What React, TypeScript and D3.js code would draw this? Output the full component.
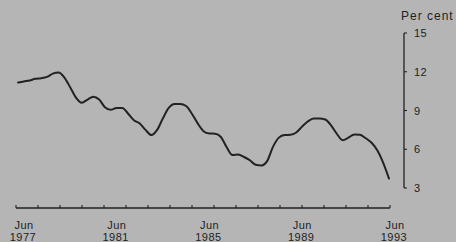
import React from "react";
import * as d3 from "d3";

// Quarterly observations, Jun 1977 .. Jun 1993 (decimal year, per cent)
const years: number[] = [
  1977.5, 1977.75, 1978.0, 1978.25, 1978.5, 1978.75, 1979.0, 1979.25, 1979.5, 1979.75,
  1980.0, 1980.25, 1980.5, 1980.75, 1981.0, 1981.25, 1981.5, 1981.75, 1982.0, 1982.25,
  1982.5, 1982.75, 1983.0, 1983.25, 1983.5, 1983.75, 1984.0, 1984.25, 1984.5, 1984.75,
  1985.0, 1985.25, 1985.5, 1985.75, 1986.0, 1986.25, 1986.5, 1986.75, 1987.0, 1987.25,
  1987.5, 1987.75, 1988.0, 1988.25, 1988.5, 1988.75, 1989.0, 1989.25, 1989.5, 1989.75,
  1990.0, 1990.25, 1990.5, 1990.75, 1991.0, 1991.25, 1991.5, 1991.75, 1992.0, 1992.25,
  1992.5, 1992.75, 1993.0, 1993.25, 1993.5,
];
const values: number[] = [
  11.16, 11.25, 11.33, 11.45, 11.5, 11.6, 11.85, 11.94, 11.55, 10.8,
  10.0, 9.6, 9.85, 10.07, 9.85, 9.25, 9.05, 9.2, 9.2, 8.75,
  8.25, 8.0, 7.5, 7.1, 7.5, 8.4, 9.2, 9.5, 9.5, 9.35,
  8.75, 8.0, 7.4, 7.22, 7.2, 6.95, 6.15, 5.55, 5.6, 5.4,
  5.15, 4.8, 4.75, 5.1, 6.2, 6.9, 7.1, 7.12, 7.3, 7.75,
  8.15, 8.38, 8.38, 8.3, 7.85, 7.2, 6.7, 6.9, 7.15, 7.12,
  6.85, 6.5, 5.9, 4.95, 3.73,
];

const xLabelYears: number[] = [1977.5, 1981.5, 1985.5, 1989.5, 1993.5];
const xLabelTop: string[] = ["Jun", "Jun", "Jun", "Jun", "Jun"];
const xLabelBottom: string[] = ["1977", "1981", "1985", "1989", "1993"];
const xMinorTickCount = 18;
const yTicks: number[] = [3, 6, 9, 12, 15];
const unitLabel = "Per cent";

const W = 456;
const H = 242;
const BG = "#b5b5b5";
const INK = "#222222";
const FONT = "'Liberation Sans', Arial, Helvetica, sans-serif";

export default function App() {
  const x = d3.scaleLinear().domain([1977.5, 1993.5]).range([18, 389]);
  const y = d3.scaleLinear().domain([3, 15]).range([188, 33]);
  const tickPos = d3.scaleLinear().domain([0, xMinorTickCount - 1]).range([16, 390]);

  const line = d3
    .line<number>()
    .x((_, i) => x(years[i]))
    .y((v) => y(v))
    .curve(d3.curveMonotoneX);

  const axisY = 208;
  const yAxisX = 404;

  return (
    <svg
      width={W}
      height={H}
      viewBox={`0 0 ${W} ${H}`}
      style={{ position: "fixed", left: 0, top: 0, display: "block" }}
    >
      <rect x={0} y={0} width={W} height={H} fill={BG} />

      {/* data line */}
      <path d={line(values) ?? ""} fill="none" stroke={INK} strokeWidth={2} strokeLinejoin="round" strokeLinecap="round" />

      {/* x axis */}
      <line x1={tickPos(0)} x2={tickPos(xMinorTickCount - 1)} y1={axisY} y2={axisY} stroke={INK} strokeWidth={1.3} />
      {d3.range(xMinorTickCount).map((i) => (
        <line key={i} x1={tickPos(i)} x2={tickPos(i)} y1={axisY} y2={axisY - 3} stroke={INK} strokeWidth={1.1} />
      ))}
      {xLabelYears.map((yr, i) => (
        <g key={yr} fontFamily={FONT} fontSize={11} fill={INK} textAnchor="middle" letterSpacing={0.5}>
          <text x={x(yr) + 6} y={229}>{xLabelTop[i]}</text>
          <text x={x(yr) + 5} y={240.5}>{xLabelBottom[i]}</text>
        </g>
      ))}

      {/* y axis */}
      <line x1={yAxisX} x2={yAxisX} y1={y(15)} y2={y(3)} stroke={INK} strokeWidth={1.3} />
      {yTicks.map((t) => (
        <g key={t}>
          <line x1={yAxisX} x2={yAxisX + 3} y1={y(t)} y2={y(t)} stroke={INK} strokeWidth={1.1} />
          <text x={414} y={y(t) + 4} fontFamily={FONT} fontSize={11} fill={INK} letterSpacing={0.4}>
            {t}
          </text>
        </g>
      ))}
      <text x={401} y={20} fontFamily={FONT} fontSize={12} fill={INK} letterSpacing={1}>
        {unitLabel}
      </text>
    </svg>
  );
}
